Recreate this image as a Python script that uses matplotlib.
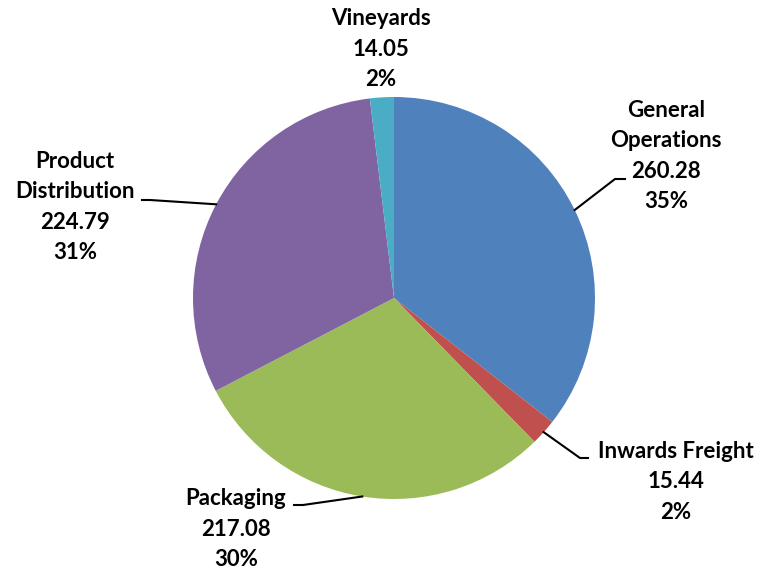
import numpy as np
import matplotlib.pyplot as plt

labels = ['General\nOperations', 'Inwards Freight', 'Packaging', 'Product\nDistribution', 'Vineyards']
values = [260.28, 15.44, 217.08, 224.79, 14.05]
pct_labels = ['35%', '2%', '30%', '31%', '2%']
colors = ['#4F81BD', '#C0504D', '#9BBB59', '#8064A2', '#4BACC6']

W, H = 761, 570
fig = plt.figure(figsize=(W / 100, H / 100), dpi=100)
ax = fig.add_axes([0, 0, 1, 1])

cx, cy, r = 394, H - 298, 201
wedges, _ = ax.pie(values, colors=colors, startangle=90, counterclock=False,
                   center=(cx, cy), radius=r, frame=True,
                   wedgeprops=dict(linewidth=0))
ax.set_xlim(0, W)
ax.set_ylim(0, H)
ax.set_aspect('equal')
ax.axis('off')

# label centres (pixels from top-left) and leader elbows
label_pos = [(666, 156), (676, 482), (236, 529), (75, 207), (381, 49)]
elbows = [((615, 179), (625, 179)), ((580, 458), (588, 458)),
          ((303, 505), (294, 505)), ((150, 200), (142, 200)), None]

for w, lab, v, p, (lx, ly), elb in zip(wedges, labels, values, pct_labels, label_pos, elbows):
    ax.text(lx, H - ly, f'{lab}\n{v:.2f}\n{p}', ha='center', va='center',
            fontsize=16, fontweight='bold', family='Lato', linespacing=1.56,
            color='black')
    if elb is not None:
        ang = np.deg2rad((w.theta1 + w.theta2) / 2)
        sx, sy = cx + r * np.cos(ang), cy + r * np.sin(ang)
        (ex, ey), (hx, hy) = elb
        ax.plot([sx, ex, hx], [sy, H - ey, H - hy], color='black', lw=1.5)

fig.savefig('out.png', dpi=100)
